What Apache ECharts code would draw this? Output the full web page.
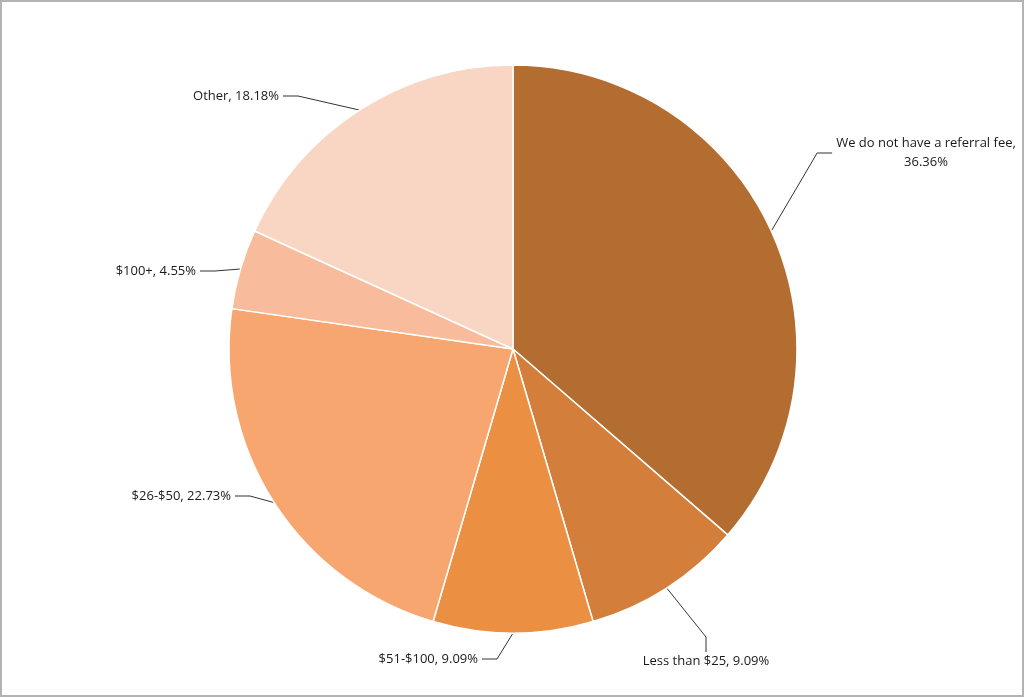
<!DOCTYPE html>
<html><head><meta charset="utf-8">
<script src="https://cdn.jsdelivr.net/npm/echarts@6/dist/echarts.min.js"></script>
<style>html,body{margin:0;padding:0;background:#fff}#c{width:1024px;height:697px;box-sizing:border-box;border:2px solid #b3b3b3}</style>
</head><body><div id="c"></div>
<script>
const categories = ['We do not have a referral fee', 'Less than $25', '$51-$100', '$26-$50', '$100+', 'Other'];
const values = [36.36, 9.09, 9.09, 22.73, 4.55, 18.18];
const colors = ['#B46D31', '#D47E3B', '#EB8F43', '#F6A66E', '#F8BC9C', '#F9D5C3'];
const labelTexts = ['We do not have a referral fee,\n36.36%', 'Less than $25, 9.09%', '$51-$100, 9.09%', '$26-$50, 22.73%', '$100+, 4.55%', 'Other, 18.18%'];
// label anchor positions (layout only)
const labelPos = [
  {x: 924, y: 151, align: 'center', va: 'middle'},
  {x: 704, y: 650, align: 'center', va: 'top'},
  {x: 480, y: 657, align: 'right', va: 'middle'},
  {x: 233, y: 494, align: 'right', va: 'middle'},
  {x: 198, y: 269, align: 'right', va: 'middle'},
  {x: 281, y: 94, align: 'right', va: 'middle'}
];
const chart = echarts.init(document.getElementById('c'));
chart.setOption({
  animation: false,
  series: [{
    type: 'pie',
    center: [511, 347],
    radius: 284,
    startAngle: 90,
    clockwise: true,
    data: categories.map((n, i) => ({name: n, value: values[i], itemStyle: {color: colors[i]}})),
    itemStyle: {borderColor: '#fff', borderWidth: 1.5},
    label: {
      show: true,
      formatter: p => labelTexts[p.dataIndex],
      fontFamily: 'Open Sans, Liberation Sans, sans-serif',
      fontSize: 13,
      color: '#1a1a1a',
      lineHeight: 19,
      padding: [0, 4]
    },
    labelLine: {show: true, lineStyle: {color: '#333', width: 1}, length: 20, length2: 15},
    labelLayout: function (params) {
      const p = labelPos[params.dataIndex];
      return {x: p.x, y: p.y, align: p.align, verticalAlign: p.va};
    }
  }]
});
</script></body></html>
